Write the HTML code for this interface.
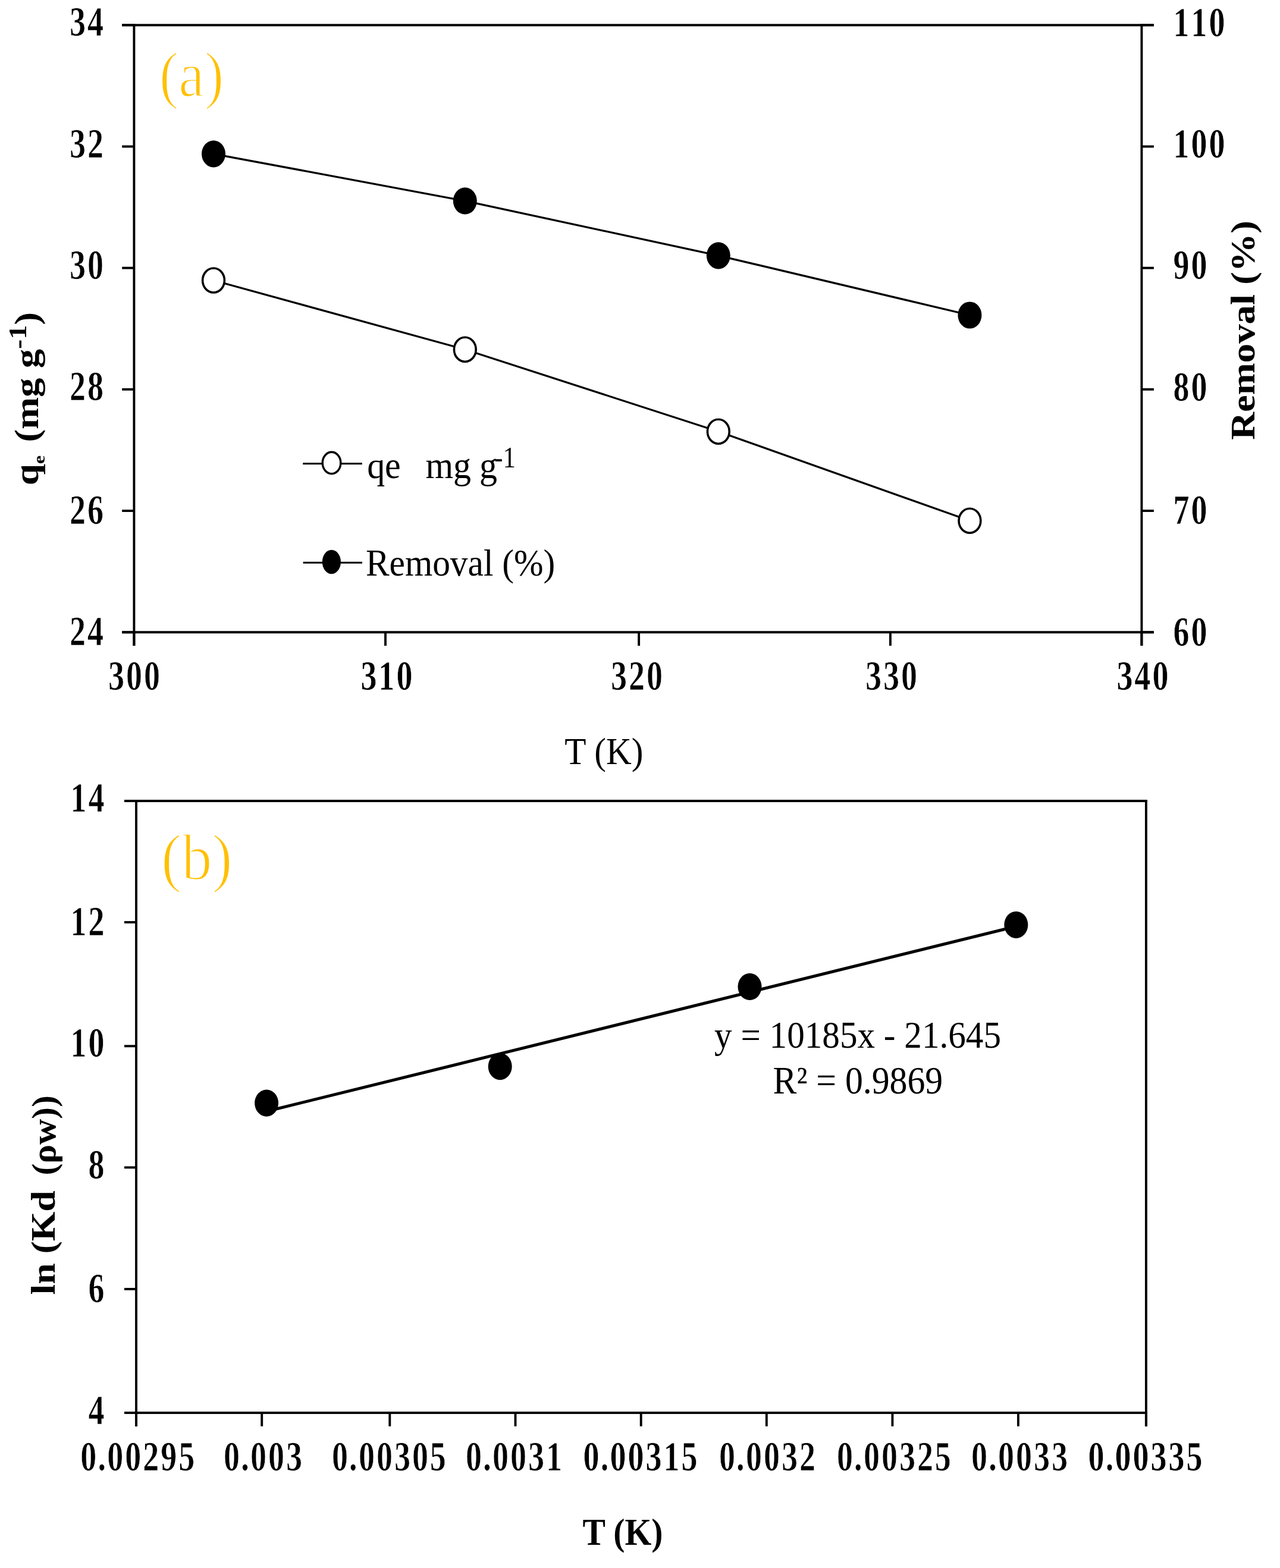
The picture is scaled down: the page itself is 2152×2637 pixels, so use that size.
<!DOCTYPE html>
<html><head><meta charset="utf-8"><style>
html,body{margin:0;padding:0;background:#fff;}
svg{display:block;}
text{font-family:"Liberation Serif","Times New Roman",serif;font-size:100px;}
</style></head><body>
<svg width="2152" height="2637" viewBox="0 0 2152 2637">
<rect width="2152" height="2637" fill="#fff"/>
<line x1="205.20" y1="42.20" x2="1939.90" y2="42.20" stroke="#000" stroke-width="3.90"/>
<line x1="205.20" y1="1063.30" x2="1939.90" y2="1063.30" stroke="#000" stroke-width="3.90"/>
<line x1="225.40" y1="40.25" x2="225.40" y2="1086.00" stroke="#000" stroke-width="3.90"/>
<line x1="1919.40" y1="40.25" x2="1919.40" y2="1086.00" stroke="#000" stroke-width="3.90"/>
<line x1="205.20" y1="42.20" x2="225.40" y2="42.20" stroke="#000" stroke-width="3.90"/>
<line x1="1919.40" y1="42.20" x2="1939.90" y2="42.20" stroke="#000" stroke-width="3.90"/>
<text transform="translate(115.50 60.20) scale(0.5400 0.6900)" x="2.8 58.3" font-weight="bold" stroke="#fff" stroke-width="1">34</text>
<text transform="translate(1971.00 60.90) scale(0.5400 0.6900)" x="2.8 58.3 113.9" font-weight="bold" stroke="#fff" stroke-width="1">110</text>
<line x1="205.20" y1="246.42" x2="225.40" y2="246.42" stroke="#000" stroke-width="3.90"/>
<line x1="1919.40" y1="246.42" x2="1939.90" y2="246.42" stroke="#000" stroke-width="3.90"/>
<text transform="translate(115.50 264.72) scale(0.5400 0.6900)" x="2.8 58.3" font-weight="bold" stroke="#fff" stroke-width="1">32</text>
<text transform="translate(1971.00 264.82) scale(0.5400 0.6900)" x="2.8 58.3 113.9" font-weight="bold" stroke="#fff" stroke-width="1">100</text>
<line x1="205.20" y1="450.64" x2="225.40" y2="450.64" stroke="#000" stroke-width="3.90"/>
<line x1="1919.40" y1="450.64" x2="1939.90" y2="450.64" stroke="#000" stroke-width="3.90"/>
<text transform="translate(115.50 468.64) scale(0.5400 0.6900)" x="2.8 58.3" font-weight="bold" stroke="#fff" stroke-width="1">30</text>
<text transform="translate(1971.00 468.64) scale(0.5400 0.6900)" x="2.8 58.3" font-weight="bold" stroke="#fff" stroke-width="1">90</text>
<line x1="205.20" y1="654.86" x2="225.40" y2="654.86" stroke="#000" stroke-width="3.90"/>
<line x1="1919.40" y1="654.86" x2="1939.90" y2="654.86" stroke="#000" stroke-width="3.90"/>
<text transform="translate(115.50 672.66) scale(0.5400 0.6900)" x="2.8 58.3" font-weight="bold" stroke="#fff" stroke-width="1">28</text>
<text transform="translate(1971.00 673.86) scale(0.5400 0.6900)" x="2.8 58.3" font-weight="bold" stroke="#fff" stroke-width="1">80</text>
<line x1="205.20" y1="859.08" x2="225.40" y2="859.08" stroke="#000" stroke-width="3.90"/>
<line x1="1919.40" y1="859.08" x2="1939.90" y2="859.08" stroke="#000" stroke-width="3.90"/>
<text transform="translate(115.50 881.08) scale(0.5400 0.6900)" x="2.8 58.3" font-weight="bold" stroke="#fff" stroke-width="1">26</text>
<text transform="translate(1971.00 880.88) scale(0.5400 0.6900)" x="2.8 58.3" font-weight="bold" stroke="#fff" stroke-width="1">70</text>
<line x1="205.20" y1="1063.30" x2="225.40" y2="1063.30" stroke="#000" stroke-width="3.90"/>
<line x1="1919.40" y1="1063.30" x2="1939.90" y2="1063.30" stroke="#000" stroke-width="3.90"/>
<text transform="translate(115.50 1085.00) scale(0.5400 0.6900)" x="2.8 58.3" font-weight="bold" stroke="#fff" stroke-width="1">24</text>
<text transform="translate(1971.00 1085.90) scale(0.5400 0.6900)" x="2.8 58.3" font-weight="bold" stroke="#fff" stroke-width="1">60</text>
<line x1="225.40" y1="1063.30" x2="225.40" y2="1086.00" stroke="#000" stroke-width="3.90"/>
<text transform="translate(180.50 1160.30) scale(0.5400 0.6900)" x="2.8 58.3 113.9" font-weight="bold" stroke="#fff" stroke-width="1">300</text>
<line x1="648.00" y1="1063.30" x2="648.00" y2="1086.00" stroke="#000" stroke-width="3.90"/>
<text transform="translate(604.90 1160.30) scale(0.5400 0.6900)" x="2.8 58.3 113.9" font-weight="bold" stroke="#fff" stroke-width="1">310</text>
<line x1="1074.10" y1="1063.30" x2="1074.10" y2="1086.00" stroke="#000" stroke-width="3.90"/>
<text transform="translate(1025.50 1160.30) scale(0.5400 0.6900)" x="2.8 58.3 113.9" font-weight="bold" stroke="#fff" stroke-width="1">320</text>
<line x1="1496.90" y1="1063.30" x2="1496.90" y2="1086.00" stroke="#000" stroke-width="3.90"/>
<text transform="translate(1453.50 1160.30) scale(0.5400 0.6900)" x="2.8 58.3 113.9" font-weight="bold" stroke="#fff" stroke-width="1">330</text>
<line x1="1919.40" y1="1063.30" x2="1919.40" y2="1086.00" stroke="#000" stroke-width="3.90"/>
<text transform="translate(1875.90 1160.30) scale(0.5400 0.6900)" x="2.8 58.3 113.9" font-weight="bold" stroke="#fff" stroke-width="1">340</text>
<polyline points="359.00,258.80 781.80,337.90 1207.80,429.80 1630.40,530.00" fill="none" stroke="#000" stroke-width="3.3"/>
<polyline points="359.00,471.50 781.80,587.80 1207.80,725.70 1630.40,875.80" fill="none" stroke="#000" stroke-width="3.3"/>
<ellipse cx="359.00" cy="258.80" rx="20" ry="22.6" fill="#000"/>
<ellipse cx="781.80" cy="337.90" rx="20" ry="22.6" fill="#000"/>
<ellipse cx="1207.80" cy="429.80" rx="20" ry="22.6" fill="#000"/>
<ellipse cx="1630.40" cy="530.00" rx="20" ry="22.6" fill="#000"/>
<ellipse cx="359.00" cy="471.50" rx="18.4" ry="20.5" fill="#fff" stroke="#000" stroke-width="3.6"/>
<ellipse cx="781.80" cy="587.80" rx="18.4" ry="20.5" fill="#fff" stroke="#000" stroke-width="3.6"/>
<ellipse cx="1207.80" cy="725.70" rx="18.4" ry="20.5" fill="#fff" stroke="#000" stroke-width="3.6"/>
<ellipse cx="1630.40" cy="875.80" rx="18.4" ry="20.5" fill="#fff" stroke="#000" stroke-width="3.6"/>
<line x1="509.20" y1="779.80" x2="608.80" y2="779.80" stroke="#000" stroke-width="3.00"/>
<ellipse cx="557.5" cy="778.5" rx="15.3" ry="18.2" fill="#fff" stroke="#000" stroke-width="3.4"/>
<line x1="509.60" y1="946.30" x2="609.00" y2="946.30" stroke="#000" stroke-width="3.00"/>
<ellipse cx="557.4" cy="945" rx="15.6" ry="20.2" fill="#000"/>
<text transform="translate(614.89 967.62) scale(0.5945 0.6286)" fill="#000">Removal (%)</text>
<text transform="translate(267.70 161.87) scale(0.9785 1.0863)" fill="#FFC000" stroke="#fff" stroke-width="2.2">(a)</text>
<text transform="translate(949.33 1285.08) scale(0.5926 0.6352)" fill="#000">T (K)</text>
<text transform="translate(2108.91 739.81) rotate(-90) scale(0.6483 0.5680)" font-weight="bold" fill="#000">Removal (%)</text>
<text transform="translate(617.13 803.50) scale(0.6000 0.6400)" fill="#000">qe</text>
<text transform="translate(715.44 803.50) scale(0.6000 0.6400)" fill="#000">mg</text>
<text transform="translate(806.12 803.50) scale(0.6000 0.6400)" fill="#000">g</text>
<text transform="translate(831.10 786.00) scale(0.4322 0.4999)" fill="#000">-1</text>
<text transform="translate(64 816.3) rotate(-90) scale(0.6480 0.5600)" font-weight="bold">q<tspan font-size="50" dy="19.6">e</tspan><tspan dx="9.6" dy="-19.6"> (mg g</tspan><tspan font-size="75" dy="-36">-1</tspan><tspan dy="36">)</tspan></text>
<line x1="209.00" y1="1347.00" x2="1928.85" y2="1347.00" stroke="#000" stroke-width="3.90"/>
<line x1="209.00" y1="2376.00" x2="1928.85" y2="2376.00" stroke="#000" stroke-width="3.90"/>
<line x1="229.00" y1="1345.05" x2="229.00" y2="2398.70" stroke="#000" stroke-width="3.90"/>
<line x1="1926.90" y1="1345.05" x2="1926.90" y2="2398.70" stroke="#000" stroke-width="3.90"/>
<line x1="209.00" y1="1347.00" x2="229.00" y2="1347.00" stroke="#000" stroke-width="3.90"/>
<text transform="translate(117.00 1365.20) scale(0.5400 0.6900)" x="2.8 58.3" font-weight="bold" stroke="#fff" stroke-width="1">14</text>
<line x1="209.00" y1="1551.00" x2="229.00" y2="1551.00" stroke="#000" stroke-width="3.90"/>
<text transform="translate(117.00 1573.40) scale(0.5400 0.6900)" x="2.8 58.3" font-weight="bold" stroke="#fff" stroke-width="1">12</text>
<line x1="209.00" y1="1759.30" x2="229.00" y2="1759.30" stroke="#000" stroke-width="3.90"/>
<text transform="translate(117.00 1777.40) scale(0.5400 0.6900)" x="2.8 58.3" font-weight="bold" stroke="#fff" stroke-width="1">10</text>
<line x1="209.00" y1="1963.40" x2="229.00" y2="1963.40" stroke="#000" stroke-width="3.90"/>
<text transform="translate(147.00 1981.70) scale(0.5400 0.6900)" x="2.8" font-weight="bold" stroke="#fff" stroke-width="1">8</text>
<line x1="209.00" y1="2167.90" x2="229.00" y2="2167.90" stroke="#000" stroke-width="3.90"/>
<text transform="translate(147.00 2190.30) scale(0.5400 0.6900)" x="2.8" font-weight="bold" stroke="#fff" stroke-width="1">6</text>
<line x1="209.00" y1="2376.00" x2="229.00" y2="2376.00" stroke="#000" stroke-width="3.90"/>
<text transform="translate(147.00 2394.50) scale(0.5400 0.6900)" x="2.8" font-weight="bold" stroke="#fff" stroke-width="1">4</text>
<line x1="229.00" y1="2376.00" x2="229.00" y2="2398.70" stroke="#000" stroke-width="3.90"/>
<text transform="translate(133.70 2472.50) scale(0.5400 0.6900)" x="2.8 56.9 86.1 141.7 197.2 252.8 308.3" font-weight="bold" stroke="#fff" stroke-width="1">0.00295</text>
<line x1="440.20" y1="2376.00" x2="440.20" y2="2398.70" stroke="#000" stroke-width="3.90"/>
<text transform="translate(374.50 2472.50) scale(0.5400 0.6900)" x="2.8 56.9 86.1 141.7 197.2" font-weight="bold" stroke="#fff" stroke-width="1">0.003</text>
<line x1="655.30" y1="2376.00" x2="655.30" y2="2398.70" stroke="#000" stroke-width="3.90"/>
<text transform="translate(556.40 2472.50) scale(0.5400 0.6900)" x="2.8 56.9 86.1 141.7 197.2 252.8 308.3" font-weight="bold" stroke="#fff" stroke-width="1">0.00305</text>
<line x1="866.50" y1="2376.00" x2="866.50" y2="2398.70" stroke="#000" stroke-width="3.90"/>
<text transform="translate(781.50 2472.50) scale(0.5400 0.6900)" x="2.8 56.9 86.1 141.7 197.2 252.8" font-weight="bold" stroke="#fff" stroke-width="1">0.0031</text>
<line x1="1077.70" y1="2376.00" x2="1077.70" y2="2398.70" stroke="#000" stroke-width="3.90"/>
<text transform="translate(979.10 2472.50) scale(0.5400 0.6900)" x="2.8 56.9 86.1 141.7 197.2 252.8 308.3" font-weight="bold" stroke="#fff" stroke-width="1">0.00315</text>
<line x1="1288.80" y1="2376.00" x2="1288.80" y2="2398.70" stroke="#000" stroke-width="3.90"/>
<text transform="translate(1207.40 2472.50) scale(0.5400 0.6900)" x="2.8 56.9 86.1 141.7 197.2 252.8" font-weight="bold" stroke="#fff" stroke-width="1">0.0032</text>
<line x1="1500.40" y1="2376.00" x2="1500.40" y2="2398.70" stroke="#000" stroke-width="3.90"/>
<text transform="translate(1405.40 2472.50) scale(0.5400 0.6900)" x="2.8 56.9 86.1 141.7 197.2 252.8 308.3" font-weight="bold" stroke="#fff" stroke-width="1">0.00325</text>
<line x1="1711.90" y1="2376.00" x2="1711.90" y2="2398.70" stroke="#000" stroke-width="3.90"/>
<text transform="translate(1631.50 2472.50) scale(0.5400 0.6900)" x="2.8 56.9 86.1 141.7 197.2 252.8" font-weight="bold" stroke="#fff" stroke-width="1">0.0033</text>
<line x1="1926.90" y1="2376.00" x2="1926.90" y2="2398.70" stroke="#000" stroke-width="3.90"/>
<text transform="translate(1828.00 2472.50) scale(0.5400 0.6900)" x="2.8 56.9 86.1 141.7 197.2 252.8 308.3" font-weight="bold" stroke="#fff" stroke-width="1">0.00335</text>
<line x1="448.25" y1="1869.03" x2="1709.13" y2="1557.72" stroke="#000" stroke-width="5.00"/>
<ellipse cx="448.10" cy="1855.10" rx="20" ry="22.6" fill="#000"/>
<ellipse cx="840.70" cy="1793.60" rx="20" ry="22.6" fill="#000"/>
<ellipse cx="1260.50" cy="1659.40" rx="20" ry="22.6" fill="#000"/>
<ellipse cx="1708.30" cy="1555.30" rx="20" ry="22.6" fill="#000"/>
<text transform="translate(270.99 1479.06) scale(1.0259 1.0962)" fill="#FFC000" stroke="#fff" stroke-width="2.2">(b)</text>
<text transform="translate(979.40 2597.52) scale(0.5766 0.6330)" font-weight="bold" fill="#000">T (K)</text>
<text transform="translate(1201.08 1762.33) scale(0.5917 0.6335)" fill="#000">y = 10185x - 21.645</text>
<text transform="translate(1299.58 1839.06) scale(0.5975 0.6640)" fill="#000">R² = 0.9869</text>
<text transform="translate(92.48 2177.54) rotate(-90) scale(0.6371 0.5647)" font-weight="bold" fill="#000">ln (Kd</text>
<text transform="translate(92.68 1976.62) rotate(-90) scale(0.5958 0.5691)" font-weight="bold" fill="#000">(ρw))</text>
</svg></body></html>
